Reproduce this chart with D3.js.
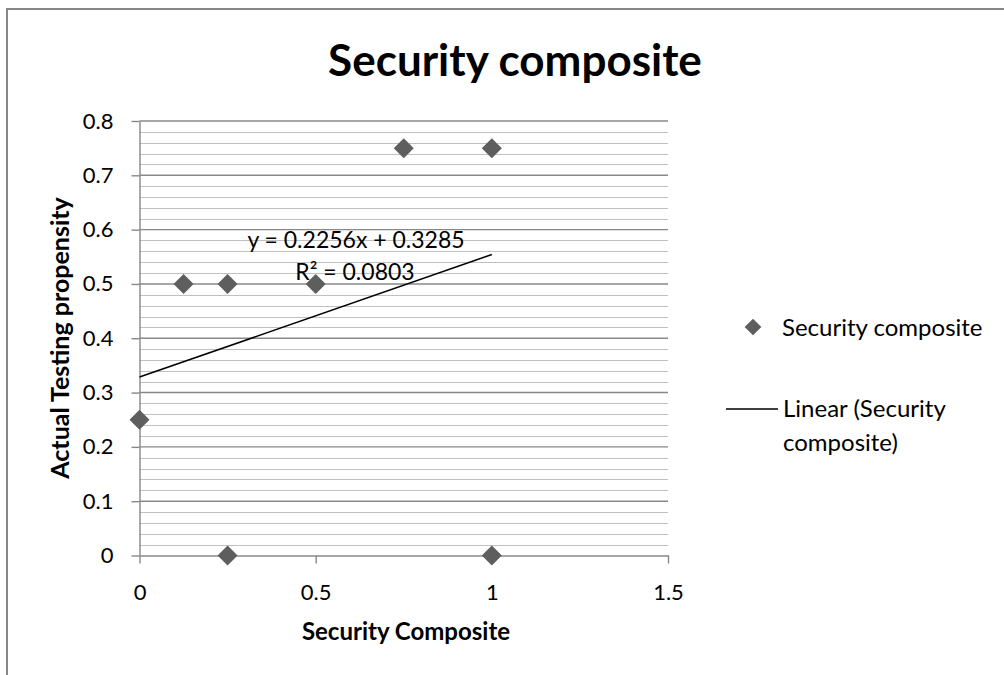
<!DOCTYPE html>
<html>
<head>
<meta charset="utf-8">
<script src="https://cdn.jsdelivr.net/npm/d3@7"></script>
<style>
  html, body { margin: 0; padding: 0; background: #fff; }
  svg { display: block; }
  text { font-family: Lato, "Open Sans", sans-serif; fill: #000; }
</style>
</head>
<body>
<svg id="chart" width="1004" height="675"></svg>
<script>
// Observations: security composite score vs. actual testing propensity
const compositeScores = [0, 0.125, 0.25, 0.5, 0.75, 1, 0.25, 1];
const testingPropensity = [0.25, 0.5, 0.5, 0.5, 0.75, 0.75, 0, 0];

// Linear trendline as stated by its label
const trendSlope = 0.2256;
const trendIntercept = 0.3285;
const trendRSquared = 0.0803;

const xTicks = [0, 0.5, 1, 1.5];
const yTicks = [0, 0.1, 0.2, 0.3, 0.4, 0.5, 0.6, 0.7, 0.8];
const yMinorStep = 0.02;

const chartTitle = "Security composite";
const xTitle = "Security Composite";
const yTitle = "Actual Testing propensity";
const seriesName = "Security composite";
const trendName = ["Linear (Security", "composite)"];

const svg = d3.select("#chart");

// outer chart frame
svg.append("rect")
  .attr("x", 7).attr("y", 9).attr("width", 1010).attr("height", 680)
  .attr("fill", "#fff").attr("stroke", "#878787").attr("stroke-width", 2);

const x = d3.scaleLinear().domain([0, 1.5]).range([139.5, 668]);
const y = d3.scaleLinear().domain([0, 0.8]).range([555.5, 121]);

// minor horizontal gridlines
const minor = d3.range(0, 0.8 + 1e-9, yMinorStep)
  .filter(v => Math.abs(v * 10 - Math.round(v * 10)) > 1e-6);
svg.append("g").selectAll("line").data(minor).join("line")
  .attr("x1", x(0)).attr("x2", x(1.5))
  .attr("y1", d => Math.round(y(d)) + 0.5).attr("y2", d => Math.round(y(d)) + 0.5)
  .attr("stroke", "#c0c0c0").attr("stroke-width", 1.2);

// major horizontal gridlines
svg.append("g").selectAll("line").data(yTicks.slice(1)).join("line")
  .attr("x1", x(0)).attr("x2", x(1.5))
  .attr("y1", d => y(d)).attr("y2", d => y(d))
  .attr("stroke", "#888").attr("stroke-width", 1.4);

// y axis
const yAxis = svg.append("g").attr("transform", `translate(${x(0)},0)`)
  .call(d3.axisLeft(y).tickValues(yTicks).tickFormat(d => d === 0 ? "0" : d3.format(".1f")(d)).tickSizeOuter(0).tickSizeInner(8).tickPadding(18));
yAxis.select(".domain").attr("stroke", "#888").attr("stroke-width", 1.4);
yAxis.selectAll(".tick line").attr("stroke", "#888").attr("stroke-width", 1.4);
yAxis.selectAll(".tick text").attr("font-size", 22).attr("font-family", "Lato, sans-serif").attr("fill", "#000");

// x axis
const xAxis = svg.append("g").attr("transform", `translate(0,${y(0)})`)
  .call(d3.axisBottom(x).tickValues(xTicks).tickFormat(d3.format("")).tickSizeOuter(0).tickSizeInner(8).tickPadding(21));
xAxis.select(".domain").attr("stroke", "#888").attr("stroke-width", 1.4);
xAxis.selectAll(".tick line").attr("stroke", "#888").attr("stroke-width", 1.4);
xAxis.selectAll(".tick text").attr("font-size", 22).attr("font-family", "Lato, sans-serif").attr("fill", "#000");

// trendline over the observed x range
const xExtent = d3.extent(compositeScores);
const trendLine = d3.line().x(d => x(d)).y(d => y(trendIntercept + trendSlope * d));
svg.append("path").datum(xExtent).attr("d", trendLine)
  .attr("fill", "none").attr("stroke", "#000").attr("stroke-width", 1.6);

// data markers
const diamond = d3.symbol().type(d3.symbolSquare).size(200);
svg.append("g").selectAll("path")
  .data(compositeScores.map((v, i) => [v, testingPropensity[i]]))
  .join("path")
  .attr("d", diamond)
  .attr("transform", d => `translate(${x(d[0])},${y(d[1])}) rotate(45)`)
  .attr("fill", "#5e5e5e");

// trendline equation
svg.append("text").attr("x", 356).attr("y", 248).attr("text-anchor", "middle")
  .attr("font-size", 23)
  .text(`y = ${trendSlope}x + ${trendIntercept}`);
svg.append("text").attr("x", 355).attr("y", 280).attr("text-anchor", "middle")
  .attr("font-size", 23)
  .text(`R² = ${trendRSquared}`);

// titles
svg.append("text").attr("x", 515).attr("y", 76).attr("text-anchor", "middle")
  .attr("font-size", 44).attr("font-weight", "bold").text(chartTitle);
svg.append("text").attr("x", 406).attr("y", 640).attr("text-anchor", "middle")
  .attr("font-size", 24).attr("font-weight", "bold").text(xTitle);
svg.append("text").attr("transform", "translate(69,338) rotate(-90)").attr("text-anchor", "middle")
  .attr("font-size", 25).attr("font-weight", "bold").text(yTitle);

// legend
const legend = svg.append("g");
legend.append("path").attr("d", d3.symbol().type(d3.symbolSquare).size(140))
  .attr("transform", "translate(753,327) rotate(45)").attr("fill", "#5e5e5e");
legend.append("text").attr("x", 782).attr("y", 336).attr("font-size", 24).text(seriesName);
legend.append("line").attr("x1", 726).attr("x2", 778).attr("y1", 409).attr("y2", 409)
  .attr("stroke", "#000").attr("stroke-width", 1.6);
legend.append("text").attr("x", 783).attr("y", 417).attr("font-size", 24).text(trendName[0]);
legend.append("text").attr("x", 783).attr("y", 451).attr("font-size", 24).text(trendName[1]);
</script>
</body>
</html>
